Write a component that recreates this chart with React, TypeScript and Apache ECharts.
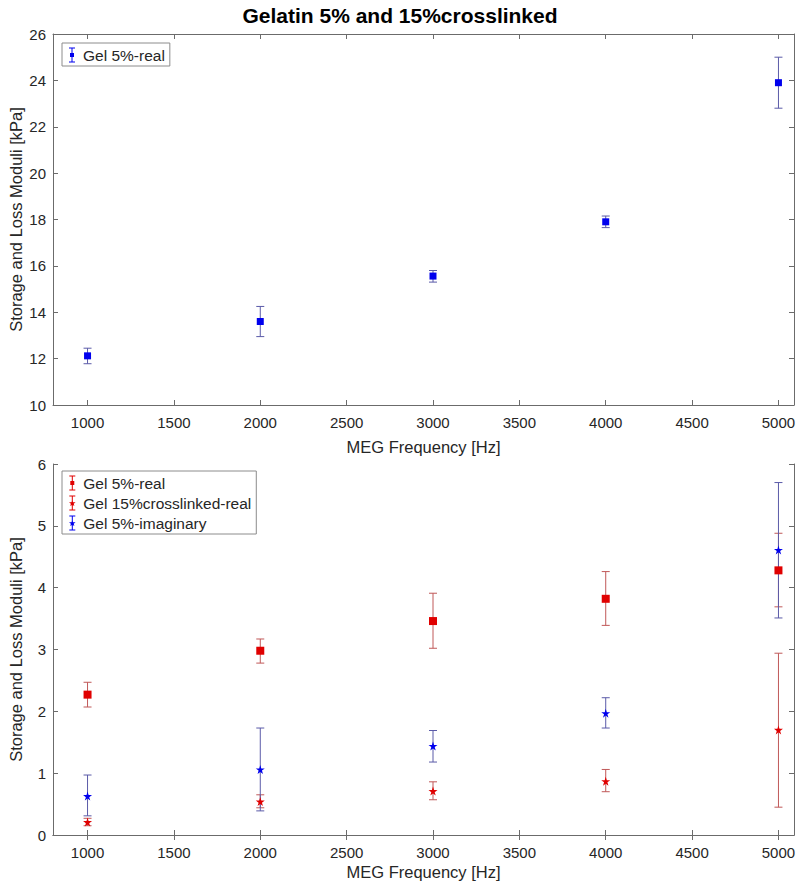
import React, { useEffect, useRef } from "react";
import * as echarts from "echarts";

const freqs = [1000, 2000, 3000, 4000, 5000];
const xTicks = [1000, 1500, 2000, 2500, 3000, 3500, 4000, 4500, 5000];

// Top panel: Gel 5%-real
const topGel5Real = [12.12, 13.6, 15.56, 17.9, 23.9];
const topGel5RealLow = [11.78, 12.95, 15.3, 17.65, 22.8];
const topGel5RealHigh = [12.45, 14.25, 15.8, 18.15, 25.0];

// Bottom panel
const gel5Real = [2.27, 2.98, 3.46, 3.82, 4.28];
const gel5RealLow = [2.07, 2.78, 3.02, 3.39, 3.69];
const gel5RealHigh = [2.47, 3.17, 3.91, 4.26, 4.88];

const gel15Real = [0.21, 0.54, 0.71, 0.87, 1.7];
const gel15RealLow = [0.15, 0.44, 0.57, 0.7, 0.45];
const gel15RealHigh = [0.27, 0.65, 0.86, 1.06, 2.94];

const gel5Imag = [0.63, 1.06, 1.44, 1.97, 4.61];
const gel5ImagLow = [0.31, 0.39, 1.18, 1.73, 3.51];
const gel5ImagHigh = [0.97, 1.73, 1.69, 2.22, 5.7];

const STAR =
  "path://M50,0 L61,35 L98,35 L68,57 L79,91 L50,70 L21,91 L32,57 L2,35 L39,35 Z";
const ICON_SQ =
  "path://M3,0H9V1H6.5V14H9V15H3V14H5.5V1H3Z M4,5.5H8V9.5H4Z";
const ICON_STAR =
  "path://M3,0H9V1H6.5V14H9V15H3V14H5.5V1H3Z M6,4.5L6.9,6.8L9.3,6.8L7.4,8.3L8.1,10.6L6,9.2L3.9,10.6L4.6,8.3L2.7,6.8L5.1,6.8Z";

const FONT = "Liberation Sans, Arial, sans-serif";
const AXIS_COLOR = "#6b6b6b";
const TEXT_COLOR = "#262626";

function errorSeries(
  name: string,
  low: number[],
  high: number[],
  color: string,
  axisIdx: number
) {
  return {
    type: "custom",
    name,
    xAxisIndex: axisIdx * 2,
    yAxisIndex: axisIdx * 2,
    data: freqs.map((f, i) => [f, low[i], high[i]]),
    encode: { x: 0, y: [1, 2] },
    z: 2,
    renderItem: (_p: any, api: any) => {
      const x = api.value(0);
      const p1 = api.coord([x, api.value(1)]);
      const p2 = api.coord([x, api.value(2)]);
      const w = 4;
      const style = { stroke: color, lineWidth: 1 };
      return {
        type: "group",
        children: [
          { type: "line", shape: { x1: p1[0], y1: p1[1], x2: p2[0], y2: p2[1] }, style },
          { type: "line", shape: { x1: p1[0] - w, y1: p1[1], x2: p1[0] + w, y2: p1[1] }, style },
          { type: "line", shape: { x1: p2[0] - w, y1: p2[1], x2: p2[0] + w, y2: p2[1] }, style },
        ],
      };
    },
  };
}

function scatterSeries(
  name: string,
  vals: number[],
  color: string,
  symbol: string,
  size: number,
  axisIdx: number
) {
  return {
    type: "scatter",
    name,
    xAxisIndex: axisIdx * 2,
    yAxisIndex: axisIdx * 2,
    data: freqs.map((f, i) => [f, vals[i]]),
    symbol,
    symbolSize: size,
    itemStyle: { color, opacity: 1 },
    z: 3,
  };
}

function xAxes(gridIndex: number, nameGap: number) {
  const base = {
    type: "value",
    gridIndex,
    min: 800,
    max: 5090,
    splitLine: { show: false },
    axisLine: { show: true, lineStyle: { color: AXIS_COLOR, width: 1 } },
    axisTick: {
      show: true,
      inside: true,
      length: 5,
      customValues: xTicks,
      lineStyle: { color: AXIS_COLOR },
    },
  };
  return [
    {
      ...base,
      position: "bottom",
      name: "MEG Frequency [Hz]",
      nameLocation: "middle",
      nameGap,
      nameMoveOverlap: false,
      nameTextStyle: { fontFamily: FONT, fontSize: 16.5, color: TEXT_COLOR },
      axisLabel: {
        show: true,
        customValues: xTicks,
        formatter: (v: number) => String(v),
        fontFamily: FONT,
        fontSize: 15,
        color: TEXT_COLOR,
        margin: 10,
      },
    },
    { ...base, position: "top", axisLabel: { show: false } },
  ];
}

function yAxes(gridIndex: number, min: number, max: number, interval: number) {
  const base = {
    type: "value",
    gridIndex,
    min,
    max,
    interval,
    splitLine: { show: false },
    axisLine: { show: true, lineStyle: { color: AXIS_COLOR, width: 1 } },
    axisTick: { show: true, inside: true, length: 5, lineStyle: { color: AXIS_COLOR } },
  };
  return [
    {
      ...base,
      position: "left",
      name: "Storage and Loss Moduli [kPa]",
      nameLocation: "middle",
      nameGap: 29,
      nameMoveOverlap: false,
      nameTextStyle: { fontFamily: FONT, fontSize: 16.5, color: TEXT_COLOR },
      axisLabel: {
        show: true,
        fontFamily: FONT,
        fontSize: 15,
        color: TEXT_COLOR,
        margin: 7,
      },
    },
    { ...base, position: "right", axisLabel: { show: false } },
  ];
}

export default function App() {
  const ref = useRef<HTMLDivElement>(null);
  useEffect(() => {
    document.body.style.margin = "0";
    if (!ref.current) return;
    const chart = echarts.init(ref.current, undefined, { renderer: "svg" });
    const legendCommon = {
      orient: "vertical",
      left: 62,
      padding: [4, 5, 3, 7],
      itemGap: 4,
      itemWidth: 12,
      itemHeight: 15,
      borderColor: "#8c8c8c",
      borderWidth: 1,
      backgroundColor: "#ffffff",
      selectedMode: false,
      textStyle: { fontFamily: FONT, fontSize: 15.5, color: TEXT_COLOR },
    };
    chart.setOption({
      animation: false,
      backgroundColor: "#ffffff",
      title: {
        text: "Gelatin 5% and 15%crosslinked",
        left: "center",
        top: 0,
        textStyle: { fontFamily: FONT, fontSize: 21, fontWeight: "bold", color: "#000000" },
      },
      grid: [
        { left: 53, right: 6, top: 34, height: 371, outerBoundsMode: "none", containLabel: false },
        { left: 53, right: 6, top: 464, height: 371, outerBoundsMode: "none", containLabel: false },
      ],
      xAxis: [...xAxes(0, 33), ...xAxes(1, 28)],
      yAxis: [...yAxes(0, 10, 26, 2), ...yAxes(1, 0, 6, 1)],
      legend: [
        {
          ...legendCommon,
          top: 43,
          data: [
            { name: "Gel 5%-real", icon: ICON_SQ, itemStyle: { color: "#0000ee" } },
          ],
        },
        {
          ...legendCommon,
          top: 471,
          data: [
            { name: "Gel 5%-real (b)", icon: ICON_SQ, itemStyle: { color: "#e00000" } },
            { name: "Gel 15%crosslinked-real", icon: ICON_STAR, itemStyle: { color: "#e00000" } },
            { name: "Gel 5%-imaginary", icon: ICON_STAR, itemStyle: { color: "#0000ee" } },
          ],
          formatter: (n: string) => n.replace(" (b)", ""),
        },
      ],
      series: [
        errorSeries("Gel 5%-real", topGel5RealLow, topGel5RealHigh, "#5a5aa8", 0),
        scatterSeries("Gel 5%-real", topGel5Real, "#0000ee", "rect", 7, 0),
        errorSeries("Gel 5%-real (b)", gel5RealLow, gel5RealHigh, "#c05858", 1),
        scatterSeries("Gel 5%-real (b)", gel5Real, "#e00000", "rect", 8, 1),
        errorSeries("Gel 15%crosslinked-real", gel15RealLow, gel15RealHigh, "#c05858", 1),
        scatterSeries("Gel 15%crosslinked-real", gel15Real, "#e00000", STAR, 9, 1),
        errorSeries("Gel 5%-imaginary", gel5ImagLow, gel5ImagHigh, "#5a5aa8", 1),
        scatterSeries("Gel 5%-imaginary", gel5Imag, "#0000ee", STAR, 9, 1),
      ],
    });
    return () => chart.dispose();
  }, []);
  return <div ref={ref} style={{ width: 800, height: 886 }} />;
}
